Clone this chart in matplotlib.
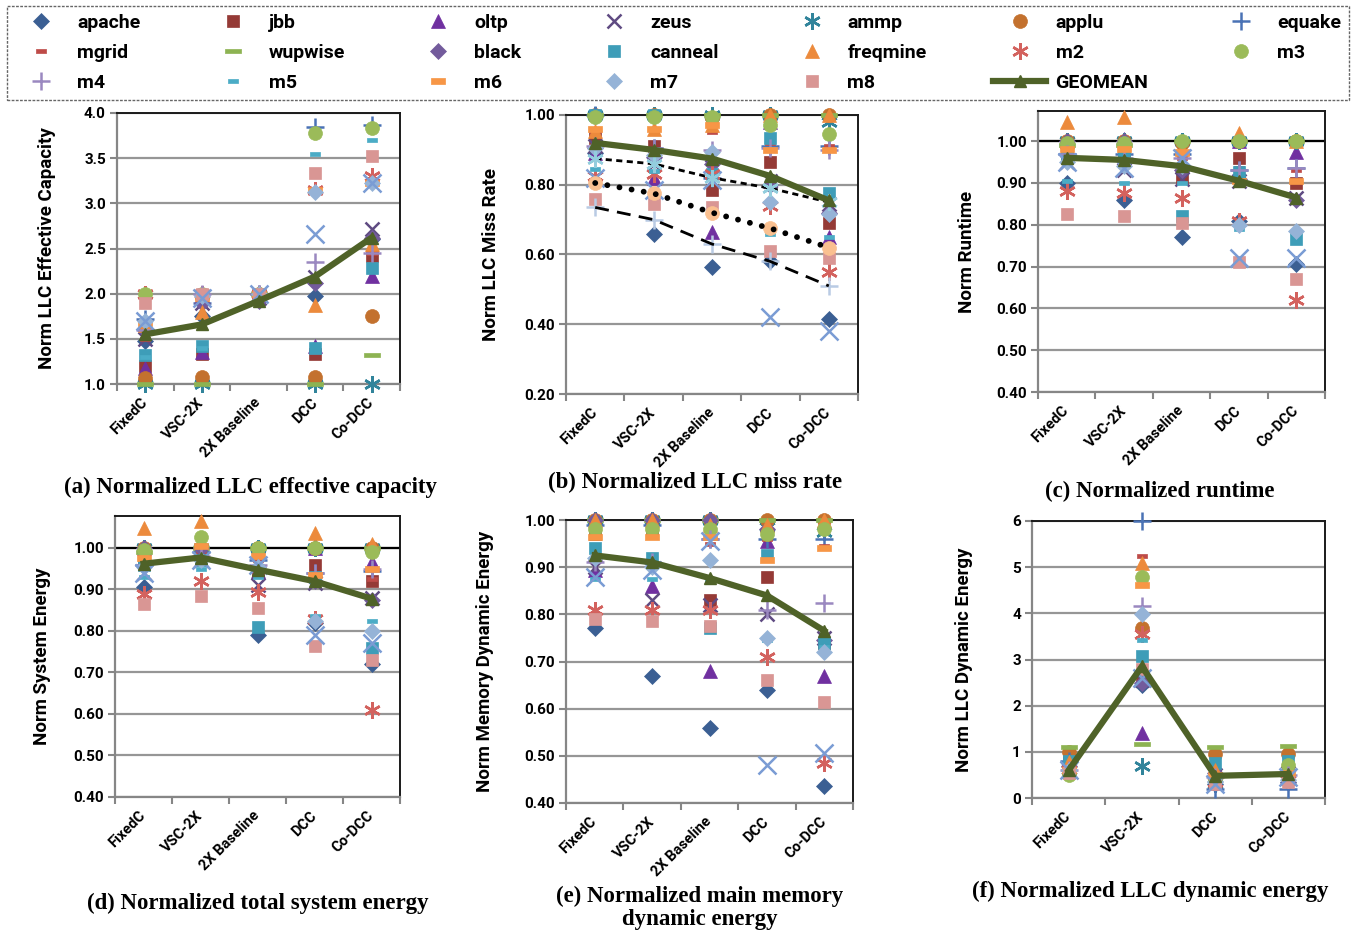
import numpy as np
import matplotlib
matplotlib.use("Agg")
import matplotlib.pyplot as plt
from matplotlib.lines import Line2D

plt.rcParams["font.family"] = ["Roboto", "DejaVu Sans"]
plt.rcParams["font.weight"] = "bold"

W, H = 1356, 936

# ── Data ────────────────────────────────────────────────────────────────────
CATS5 = ["FixedC", "VSC-2X", "2X Baseline", "DCC", "Co-DCC"]
CATS4 = ["FixedC", "VSC-2X", "DCC", "Co-DCC"]

BENCHES = ["apache", "jbb", "oltp", "zeus", "ammp", "applu", "equake",
           "mgrid", "wupwise", "black", "canneal", "freqmine", "m2", "m3",
           "m4", "m5", "m6", "m7", "m8"]

# rows follow BENCHES, last row is the unlabelled light-blue "x" series
capacity = [
    [1.48, 1.75, 2.00, 1.97, 2.60],
    [1.20, 1.33, 2.00, 1.33, 2.42],
    [1.18, 1.35, 2.00, 1.42, 2.20],
    [1.50, 1.90, 1.95, 2.18, 2.72],
    [1.00, 1.00, 2.00, 1.00, 1.00],
    [1.07, 1.08, 2.00, 1.08, 1.75],
    [1.72, 1.90, 2.00, 3.85, 3.87],
    [1.50, 1.45, 2.00, 1.35, 2.45],
    [1.00, 1.00, 2.00, 1.00, 1.32],
    [1.60, 1.90, 1.92, 2.12, 2.62],
    [1.32, 1.42, 2.00, 1.40, 2.28],
    [1.65, 1.80, 2.00, 1.87, 2.55],
    [2.00, 2.00, 2.00, 3.15, 3.30],
    [2.00, 2.00, 2.00, 3.78, 3.83],
    [1.60, 2.00, 2.00, 2.35, 2.45],
    [1.30, 1.40, 2.00, 3.55, 3.70],
    [1.68, 1.95, 2.00, 3.15, 3.22],
    [1.70, 1.97, 2.00, 3.12, 3.23],
    [1.90, 2.00, 2.00, 3.34, 3.52],
    [1.70, 1.95, 2.00, 2.66, 3.22],
]
capacity_geo = [1.55, 1.66, 1.92, 2.19, 2.62]

missrate = [
    [0.89, 0.66, 0.565, 0.58, 0.415],
    [0.935, 0.91, 0.785, 0.865, 0.69],
    [0.89, 0.82, 0.665, 0.98, 0.65],
    [0.91, 0.86, 0.85, 0.81, 0.745],
    [1.00, 1.00, 1.00, 1.00, 0.98],
    [1.00, 1.00, 0.99, 1.00, 1.00],
    [1.00, 0.905, 0.82, 0.91, 0.91],
    [0.95, 0.955, 0.95, 0.92, 0.91],
    [1.00, 1.00, 1.00, 1.00, 1.00],
    [0.905, 0.88, 0.86, 0.80, 0.72],
    [1.00, 1.00, 0.83, 0.935, 0.775],
    [0.955, 0.96, 0.97, 1.00, 1.00],
    [0.825, 0.83, 0.83, 0.74, 0.55],
    [0.995, 0.995, 0.995, 0.97, 0.945],
    [0.91, 0.905, 0.90, 0.905, 0.90],
    [0.845, 0.84, 0.825, 0.66, 0.65],
    [0.96, 0.96, 0.97, 0.90, 0.90],
    [0.905, 0.885, 0.895, 0.75, 0.715],
    [0.76, 0.745, 0.735, 0.61, 0.59],
    [0.82, 0.785, 0.815, 0.42, 0.38],
]
missrate_geo = [0.92, 0.90, 0.875, 0.825, 0.755]
# three extra series that carry black trend lines in panel (b)
miss_dash = [0.875, 0.86, 0.82, 0.79, 0.75]
miss_dot = [0.805, 0.775, 0.72, 0.675, 0.62]
miss_longdash = [0.735, 0.70, 0.63, 0.58, 0.51]

runtime = [
    [0.90, 0.86, 0.77, 0.81, 0.705],
    [0.97, 0.97, 0.915, 0.96, 0.90],
    [1.00, 1.005, 0.94, 1.00, 0.975],
    [0.95, 0.93, 0.91, 0.905, 0.865],
    [1.00, 1.00, 1.00, 1.00, 1.00],
    [1.00, 1.00, 0.995, 1.00, 1.00],
    [0.97, 0.97, 0.97, 0.93, 0.935],
    [0.97, 0.97, 0.96, 0.935, 0.93],
    [0.99, 0.99, 1.00, 1.00, 1.00],
    [1.00, 1.00, 0.93, 0.91, 0.86],
    [0.97, 0.965, 0.82, 0.925, 0.765],
    [1.045, 1.057, 0.98, 1.02, 1.00],
    [0.88, 0.875, 0.865, 0.81, 0.62],
    [0.995, 0.995, 1.00, 1.00, 1.00],
    [0.97, 0.96, 0.96, 0.93, 0.935],
    [0.905, 0.90, 0.90, 0.79, 0.785],
    [0.98, 0.98, 0.975, 0.905, 0.905],
    [0.95, 0.94, 0.94, 0.80, 0.785],
    [0.825, 0.82, 0.805, 0.71, 0.67],
    [0.95, 0.935, 0.96, 0.72, 0.72],
]
runtime_geo = [0.96, 0.955, 0.94, 0.905, 0.865]

sysenergy = [
    [0.905, 0.99, 0.79, 0.82, 0.72],
    [0.97, 0.98, 0.945, 0.96, 0.92],
    [1.00, 1.00, 0.945, 1.00, 0.965],
    [0.94, 0.97, 0.91, 0.915, 0.88],
    [1.00, 1.00, 1.00, 1.00, 1.00],
    [1.00, 1.00, 1.00, 1.00, 1.00],
    [0.96, 0.99, 0.97, 0.94, 0.945],
    [0.97, 0.99, 0.97, 0.935, 0.925],
    [0.99, 1.00, 1.00, 1.00, 1.00],
    [1.00, 1.00, 0.955, 0.92, 0.875],
    [0.96, 0.97, 0.81, 0.93, 0.76],
    [1.048, 1.065, 0.99, 1.035, 1.01],
    [0.89, 0.92, 0.895, 0.83, 0.61],
    [0.995, 1.027, 1.00, 1.00, 0.99],
    [0.96, 0.98, 0.96, 0.94, 0.95],
    [0.93, 0.95, 0.93, 0.835, 0.825],
    [0.975, 1.005, 0.98, 0.935, 0.95],
    [0.955, 0.97, 0.955, 0.825, 0.80],
    [0.865, 0.885, 0.855, 0.765, 0.73],
    [0.94, 0.97, 0.96, 0.79, 0.77],
]
sysenergy_geo = [0.962, 0.977, 0.948, 0.92, 0.878]

memenergy = [
    [0.77, 0.67, 0.56, 0.64, 0.435],
    [0.97, 0.98, 0.83, 0.88, 0.74],
    [0.895, 0.86, 0.68, 0.955, 0.67],
    [0.90, 0.83, 0.82, 0.80, 0.75],
    [1.00, 1.00, 1.00, 0.985, 0.975],
    [1.00, 1.00, 1.00, 1.00, 1.00],
    [0.99, 0.99, 0.96, 0.96, 0.96],
    [0.99, 0.98, 0.95, 0.96, 0.945],
    [1.00, 1.00, 1.00, 1.00, 1.00],
    [1.00, 1.00, 1.00, 0.98, 0.745],
    [0.94, 0.92, 0.77, 0.925, 0.74],
    [1.00, 1.00, 0.99, 0.99, 1.00],
    [0.81, 0.81, 0.81, 0.71, 0.485],
    [0.98, 0.98, 0.98, 0.97, 0.98],
    [0.91, 0.91, 0.96, 0.81, 0.825],
    [0.875, 0.875, 0.87, 0.745, 0.73],
    [0.965, 0.965, 0.965, 0.915, 0.94],
    [0.92, 0.90, 0.915, 0.75, 0.72],
    [0.79, 0.785, 0.775, 0.66, 0.615],
    [0.88, 0.895, 0.955, 0.48, 0.505],
]
memenergy_geo = [0.925, 0.91, 0.877, 0.84, 0.765]

llcenergy = [
    [0.60, 2.45, 0.30, 0.35],
    [0.95, 2.55, 0.50, 0.50],
    [0.75, 1.40, 0.60, 0.50],
    [0.60, 2.55, 0.50, 0.55],
    [0.60, 0.70, 0.30, 0.40],
    [1.00, 3.68, 0.95, 0.95],
    [0.80, 6.00, 0.20, 0.20],
    [0.85, 5.25, 0.70, 0.70],
    [1.10, 1.18, 1.10, 1.12],
    [0.70, 2.50, 0.55, 0.60],
    [0.80, 3.08, 0.75, 0.80],
    [0.78, 5.10, 0.60, 0.55],
    [0.60, 3.55, 0.35, 0.40],
    [0.50, 4.78, 0.40, 0.72],
    [0.60, 4.15, 0.45, 0.50],
    [0.60, 3.42, 0.30, 0.38],
    [0.60, 4.62, 0.50, 0.55],
    [0.60, 3.98, 0.35, 0.40],
    [0.55, 2.80, 0.30, 0.35],
    [0.60, 2.60, 0.30, 0.45],
]
llcenergy_geo = [0.60, 2.85, 0.48, 0.52]

# ── Styles ──────────────────────────────────────────────────────────────────
STAR = (6, 2, 0)
SDASH = [(-1, -0.5), (1, -0.5), (1, 0.5), (-1, 0.5), (-1, -0.5)]
DASH = [(-1, -0.4), (1, -0.4), (1, 0.4), (-1, 0.4), (-1, -0.4)]
LDASH = [(-1, -0.28), (1, -0.28), (1, 0.28), (-1, 0.28), (-1, -0.28)]

STYLES = [
    ("#3B5F93", "D", 8), ("#953A36", "s", 9), ("#7030A0", "^", 10),
    ("#5F4B82", "x", 10.5), ("#31849B", STAR, 12), ("#C3712E", "o", 10),
    ("#4A72B5", "+", 12.5), ("#BE4B48", SDASH, 7), ("#8DB352", LDASH, 12),
    ("#735B9C", "D", 8), ("#3E9DB8", "s", 9), ("#EC8A3C", "^", 10),
    ("#D3625E", STAR, 12), ("#9BBB59", "o", 10), ("#9A88C0", "+", 12.5),
    ("#4BACC6", SDASH, 7), ("#F79646", DASH, 9.5), ("#95B3D7", "D", 8),
    ("#D99694", "s", 9), ("#7A9CD4", "x", 12.5),
]
GEO_COLOR = "#4F6228"


def mstyle(color, marker, size):
    thin = marker in ("x", "+", STAR)
    return dict(ls="none", marker=marker, ms=size, color=color,
                mec=color, mfc=color, mew=1.8 if thin else 0.5)


def R(l, t, r, b):
    return [l / W, 1 - b / H, (r - l) / W, (b - t) / H]


fig = plt.figure(figsize=(W / 100, H / 100), dpi=100)


def panel(rect, cats, table, geo, ylim, yticks, fmt, ylabel, lab_x, one_line):
    ax = fig.add_axes(rect)
    x = np.arange(len(cats))
    for vals, st in zip(table, STYLES):
        ax.plot(x, vals, clip_on=False, zorder=3, **mstyle(*st))
    ax.plot(x, geo, color=GEO_COLOR, lw=4.5, marker="^", ms=8.5,
            clip_on=False, zorder=6)
    ax.set_xlim(-0.5, len(cats) - 0.5)
    ax.set_ylim(*ylim)
    ax.set_yticks(yticks)
    ax.set_yticklabels([fmt % v for v in yticks])
    ax.set_xticks(np.arange(len(cats) + 1) - 0.5)
    ax.set_xticklabels([])
    ax.set_xticks(x, minor=True)
    ax.set_xticklabels(cats, minor=True, rotation=45, ha="right",
                       va="center", rotation_mode="anchor")
    ax.tick_params(axis="x", which="minor", length=0, pad=12, labelsize=10.5)
    ax.tick_params(axis="x", which="major", length=5, width=1.5,
                   color="#868686", direction="out")
    ax.tick_params(axis="y", length=5, width=1.5, color="#868686",
                   direction="out", labelsize=11, pad=3)
    ax.grid(axis="y", color="#969696", lw=1.6, zorder=1)
    ax.set_axisbelow(True)
    for s in ("left", "bottom"):
        ax.spines[s].set_color("#868686")
        ax.spines[s].set_linewidth(1.6)
    for s in ("top", "right"):
        ax.spines[s].set_color("#1a1a1a")
        ax.spines[s].set_linewidth(1.4)
    if one_line:
        ax.axhline(1.0, color="black", lw=1.6, zorder=2)
    ax.set_ylabel(ylabel, fontsize=13.5, fontweight="bold")
    ax.yaxis.set_label_coords(lab_x, 0.5)
    return ax


ax_a = panel(R(117, 113, 400, 384), CATS5, capacity, capacity_geo, (1.0, 4.0),
             np.arange(1.0, 4.01, 0.5), "%.1f", "Norm LLC Effective Capacity",
             -0.215, False)
ax_b = panel(R(566, 115, 858, 394), CATS5, missrate, missrate_geo, (0.2, 1.0),
             np.arange(0.2, 1.01, 0.2), "%.2f", "Norm LLC Miss Rate",
             -0.225, False)
ax_c = panel(R(1038, 111, 1325, 392), CATS5, runtime, runtime_geo,
             (0.4, 1.072), np.arange(0.4, 1.01, 0.1), "%.2f", "Norm Runtime",
             -0.215, True)
ax_d = panel(R(115, 516, 400, 797), CATS5, sysenergy, sysenergy_geo,
             (0.4, 1.077), np.arange(0.4, 1.01, 0.1), "%.2f",
             "Norm System Energy", -0.225, True)
ax_e = panel(R(566, 520, 853, 803), CATS5, memenergy, memenergy_geo,
             (0.4, 1.0), np.arange(0.4, 1.01, 0.1), "%.2f",
             "Norm Memory Dynamic Energy", -0.25, False)
ax_f = panel(R(1032, 521, 1325, 798), CATS4, llcenergy, llcenergy_geo,
             (0, 6), np.arange(0, 7, 1), "%d", "Norm LLC Dynamic Energy",
             -0.2, False)

# extra series with black trend lines in panel (b)
xb = np.arange(5)
ax_b.plot(xb, miss_dash, color="black", lw=2, ls=(0, (2.2, 1.6)), zorder=4)
ax_b.plot(xb, miss_dash, zorder=4, **mstyle("#93CDDD", STAR, 12))
ax_b.plot(xb, miss_dot, color="black", lw=4.2, ls=(0, (0.01, 2.1)),
          dash_capstyle="round", zorder=4)
ax_b.plot(xb, miss_dot, zorder=3, **mstyle("#FAC090", "o", 10))
ax_b.plot(xb, miss_longdash, color="black", lw=2, ls=(0, (5, 3)), zorder=4)
ax_b.plot(xb, miss_longdash, zorder=3, **mstyle("#B9CBE4", "+", 12.5))

# ── Captions ────────────────────────────────────────────────────────────────
CAPTIONS = [
    (250, 487, "(a) Normalized LLC effective capacity"),
    (695, 482, "(b) Normalized LLC miss rate"),
    (1160, 491, "(c) Normalized runtime"),
    (258, 903, "(d) Normalized total system energy"),
    (700, 908, "(e) Normalized main memory\ndynamic energy"),
    (1150, 891, "(f) Normalized LLC dynamic energy"),
]
for cx, cy, txt in CAPTIONS:
    fig.text(cx / W, 1 - cy / H, txt, ha="center", va="center",
             family="Liberation Serif", fontweight="bold", fontsize=16.5,
             linespacing=1.1)

# ── Legend (row-major order, matplotlib fills column-major) ────────────────
entries = [(Line2D([], [], **mstyle(*st)), name)
           for st, name in zip(STYLES, BENCHES)]
entries.append((Line2D([], [], color=GEO_COLOR, lw=4.5, marker="^", ms=8.5),
                "GEOMEAN"))
ncol, nrow = 7, 3
ordered = [entries[r * ncol + c] for c in range(ncol) for r in range(nrow)
           if r * ncol + c < len(entries)]
leg = fig.legend([h for h, _ in ordered], [l for _, l in ordered],
                 loc="upper left", bbox_to_anchor=(7 / W, 1 - 100 / H,
                                                   1342 / W, 94 / H),
                 mode="expand", ncol=ncol, frameon=True,
                 fancybox=False, edgecolor="#404040", borderaxespad=0,
                 handlelength=2.7, handletextpad=0.5, labelspacing=0.62,
                 borderpad=0.4, prop={"weight": "bold", "size": 14})
leg.get_frame().set_linestyle((0, (2, 1)))
leg.get_frame().set_linewidth(1.0)

fig.savefig("out.png", dpi=100)
